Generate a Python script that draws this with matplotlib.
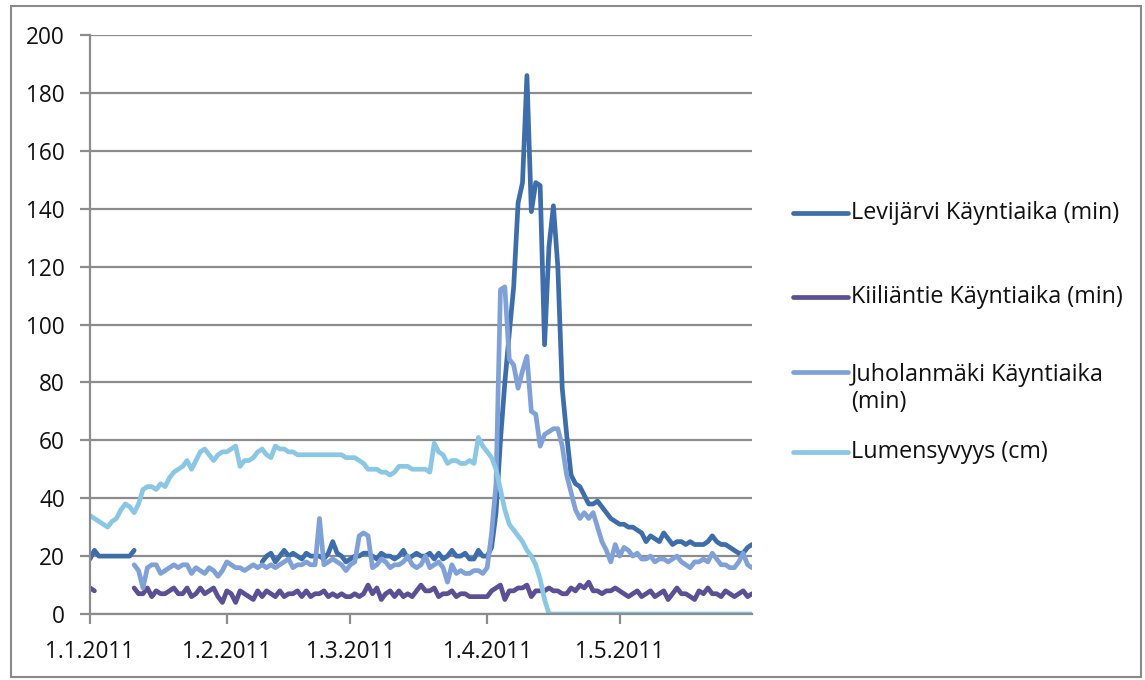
import numpy as np
import pandas as pd
import matplotlib
matplotlib.use("Agg")
import matplotlib.pyplot as plt
import matplotlib.dates as mdates
from matplotlib.lines import Line2D
from matplotlib.patches import Rectangle
from matplotlib.ticker import FuncFormatter

nan = np.nan
dates = pd.date_range("2011-01-01", "2011-05-31", freq="D")

levijarvi = [
    19, 22, 20, 20, 20, 20, 20, 20, 20, 20, 22,
] + [nan] * 28 + [
    18, 20, 21, 18, 20, 22, 20, 21, 20, 19, 21, 20,
    20, 20, 19, 21, 25, 21, 20, 18, 19, 20,
    20, 21, 21, 20, 19, 21, 20, 20, 19, 20,
    22, 19, 20, 21, 20, 20, 21, 19, 21, 19,
    20, 22, 20, 20, 21, 19, 19, 22, 20, 20,
    23, 35, 60, 80, 97, 113, 142, 149, 186, 139,
    149, 148, 93, 127, 141, 120, 78, 62, 48, 45,
    44, 41, 38, 38, 39, 37, 35, 33, 32, 31,
    31, 30, 30, 29, 28, 25, 27, 26, 25, 28,
    26, 24, 25, 25, 24, 25, 24, 24, 24, 25,
    27, 25, 24, 24, 23, 22, 21, 21, 23, 24,
]

kiiliantie = [9, 8] + [nan] * 8 + [
    9, 7, 7, 9, 6, 8, 7, 7, 8, 9,
    7, 7, 9, 6, 7, 9, 7, 8, 9, 6,
    4, 8, 7, 4, 8, 7, 6, 5, 8, 6,
    8, 7, 6, 8, 6, 7, 7, 8, 6, 8,
    6, 7, 7, 8, 6, 7, 6, 7, 6, 6,
    7, 6, 7, 10, 7, 9, 5, 7, 8, 6,
    8, 6, 7, 6, 8, 10, 8, 8, 9, 6,
    7, 7, 8, 6, 7, 7, 6, 6, 6, 6,
    6, 8, 9, 10, 5, 8, 8, 9, 9, 10,
    6, 8, 8, 8, 9, 8, 8, 7, 7, 9,
    8, 10, 9, 11, 8, 8, 7, 8, 8, 9,
    8, 7, 6, 7, 8, 6, 7, 8, 6, 7,
    8, 5, 7, 9, 7, 7, 6, 5, 8, 7,
    9, 7, 7, 6, 8, 7, 6, 7, 8, 6, 7,
]

juholanmaki = [nan] * 10 + [
    17, 15, 9, 16, 17, 17, 14, 15, 16, 17,
    16, 17, 17, 14, 16, 15, 14, 16, 15, 13,
    15, 18, 17, 16, 16, 15, 16, 17, 16, 17,
    16, 17, 16, 17, 18, 19, 16, 17, 17, 18,
    17, 17, 33, 17, 18, 19, 18, 17, 15, 17,
    18, 27, 28, 27, 16, 17, 19, 18, 16, 17,
    17, 18, 20, 17, 16, 17, 20, 16, 17, 18,
    16, 11, 17, 14, 15, 14, 14, 15, 15, 14,
    16, 28, 45, 112, 113, 88, 86, 78, 84, 89,
    70, 69, 58, 62, 63, 64, 64, 58, 48, 42,
    36, 33, 35, 33, 35, 30, 25, 22, 18, 24,
    20, 23, 22, 20, 21, 19, 19, 20, 18, 19,
    19, 18, 19, 20, 18, 17, 16, 18, 18, 19,
    18, 21, 19, 17, 17, 16, 16, 18, 21, 17, 16,
]

lumensyvyys = [
    34, 33, 32, 31, 30, 32, 33, 36, 38, 37,
    35, 38, 43, 44, 44, 43, 45, 44, 47, 49,
    50, 51, 53, 50, 53, 56, 57, 55, 53, 55,
    56, 56, 57, 58, 51, 53, 53, 54, 56, 57,
    55, 54, 58, 57, 57, 56, 56, 55, 55, 55,
    55, 55, 55, 55, 55, 55, 55, 55, 54, 54,
    54, 53, 52, 50, 50, 50, 49, 49, 48, 49,
    51, 51, 51, 50, 50, 50, 50, 49, 59, 56,
    55, 52, 53, 53, 52, 52, 53, 52, 61, 58,
    56, 54, 50, 43, 36, 31, 29, 27, 25, 22,
    20, 17, 12, 5, 0, 0, 0, 0, 0, 0,
] + [0] * 41

series_names = [
    "Levijärvi Käyntiaika (min)",
    "Kiiliäntie Käyntiaika (min)",
    "Juholanmäki Käyntiaika\n(min)",
    "Lumensyvyys (cm)",
]
series_values = [levijarvi, kiiliantie, juholanmaki, lumensyvyys]
colors = ["#3d6dab", "#5b4f95", "#7fa1d8", "#8ac7e4"]

yticks = list(range(0, 201, 20))
xtick_dates = pd.to_datetime(["2011-01-01", "2011-02-01", "2011-03-01",
                              "2011-04-01", "2011-05-01"])

FONT = "Open Sans"
W, H = 1145, 680
fig = plt.figure(figsize=(W / 100, H / 100), dpi=100)
L, R, T, B = 90, 752, 35, 614
ax = fig.add_axes([L / W, 1 - B / H, (R - L) / W, (B - T) / H])

LW = 3.4
for name, vals, c in zip(series_names, series_values, colors):
    ax.plot(dates, vals, color=c, lw=LW, solid_joinstyle="round",
            solid_capstyle="round")

gridc = "#8c8c8c"
ax.set_ylim(0, 200)
ax.set_yticks(yticks)
ax.yaxis.grid(True, color=gridc, lw=1.6)
ax.set_axisbelow(True)
ax.set_xlim(dates[0], dates[-1])
ax.set_xticks(xtick_dates)
ax.xaxis.set_major_formatter(FuncFormatter(
    lambda v, p: "{d.day}.{d.month}.{d.year}".format(d=mdates.num2date(v))))
for s in ["top", "right"]:
    ax.spines[s].set_visible(False)
for s in ["left", "bottom"]:
    ax.spines[s].set_color(gridc)
    ax.spines[s].set_linewidth(1.6)
ax.tick_params(axis="y", length=7, width=1.6, color=gridc, pad=11,
               labelsize=16.3, labelcolor="#111111")
ax.tick_params(axis="x", length=7, width=1.6, color=gridc, pad=12,
               labelsize=16.3, labelcolor="#111111")
for lab in ax.get_xticklabels() + ax.get_yticklabels():
    lab.set_fontfamily(FONT)

# legend drawn at the right
leg_y = [213, 297, 388.5, 452]
handle_y = [213, 297, 372, 452]
for name, c, ty, hy in zip(series_names, colors, leg_y, handle_y):
    fig.add_artist(Line2D([793 / W, 848 / W], [1 - hy / H, 1 - hy / H],
                          transform=fig.transFigure, color=c, lw=LW,
                          solid_capstyle="round"))
    fig.text(851 / W, 1 - ty / H, name, ha="left", va="center",
             fontsize=16.8, family=FONT, color="#111111", linespacing=1.2)

fig.add_artist(Rectangle((11 / W, 1 - 677 / H), (1141 - 11) / W, (677 - 6) / H,
                         transform=fig.transFigure, fill=False,
                         edgecolor="#8a8a8a", lw=1.5))

fig.savefig("out.png", dpi=100)
